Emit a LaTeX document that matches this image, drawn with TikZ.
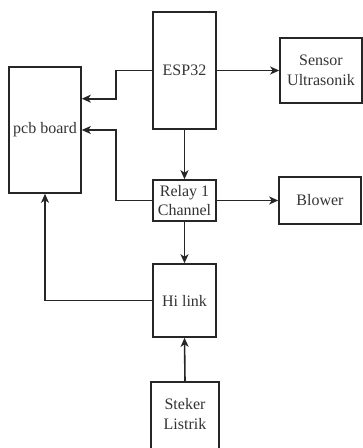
\documentclass[tikz,border=0pt]{standalone}
\usepackage{fontspec}
\setmainfont{Liberation Serif}
\usetikzlibrary{arrows.meta}
\begin{document}
\begin{tikzpicture}[x=1pt,y=-1pt,
  blk/.style={draw=black!85, line width=1.6pt, inner sep=0pt, align=center,
    font=\fontsize{16}{19.5}\selectfont, text=black!80},
  arr/.style={draw=black!85, line width=1.6pt, -{Stealth[length=9pt,width=8pt,inset=2.5pt]}},
  ln/.style={draw=black!85, line width=1.6pt}]
\useasboundingbox (0,0) rectangle (363,448);
\clip (0,0) rectangle (363,448);
\node[blk, minimum width=63pt, minimum height=117pt] (esp) at (184.5,70.5) {ESP32};
\node[blk, minimum width=82pt, minimum height=65pt] (sen) at (321,70.5) {Sensor\\Ultrasonik};
\node[blk, minimum width=72pt, minimum height=126pt] (pcb) at (45,130) {pcb board};
\node[blk, minimum width=63pt, minimum height=41pt] (rel) at (184.5,200.5) {Relay 1\\Channel};
\node[blk, minimum width=82pt, minimum height=47pt] (blw) at (320,200.5) {Blower};
\node[blk, minimum width=63pt, minimum height=73pt] (hl) at (184.5,300.5) {Hi link};
\node[blk, minimum width=68pt, minimum height=72pt, anchor=north] (stk) at (185,381) {};
\node[font=\fontsize{16}{19.5}\selectfont, text=black!80, align=center] (stkt) at (185,414) {Steker\\Listrik};
\draw[arr] (esp.west) -- ++(-36,0) |- ([yshift=31.3pt]pcb.east);
\draw[arr] (esp.east) -- (sen.west);
\draw[arr] (esp.south) -- (rel.north);
\draw[arr] (rel.west) -- ++(-36,0) |- (pcb.east);
\draw[arr] (rel.east) -- (blw.west |- rel.east);
\draw[arr] (rel.south) -- (hl.north);
\draw[arr] (hl.west) -| (pcb.south);
\draw[arr] (stk.north) -- (hl.south);
\end{tikzpicture}
\end{document}
